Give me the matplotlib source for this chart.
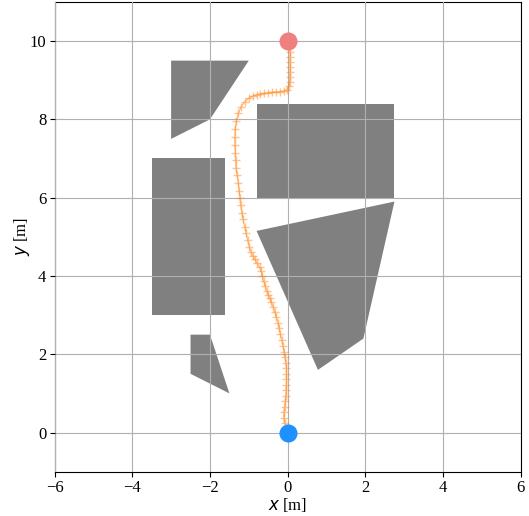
import numpy as np
import matplotlib.pyplot as plt
from matplotlib.patches import Polygon

# obstacles (polygon vertices in metres)
obstacles = [
    [(-3.0, 9.5), (-1.0, 9.5), (-2.0, 8.0), (-3.0, 7.5)],
    [(-0.8, 8.4), (2.75, 8.4), (2.75, 6.0), (-0.8, 6.0)],
    [(-3.5, 7.0), (-1.6, 7.0), (-1.6, 3.0), (-3.5, 3.0)],
    [(-0.8, 5.15), (2.75, 5.9), (1.95, 2.4), (0.78, 1.6)],
    [(-2.5, 2.5), (-2.0, 2.5), (-1.5, 1.0), (-2.5, 1.5)],
]

start = (0.0, 0.0)
goal = (0.0, 10.0)

path_x = [0.0, -0.05, -0.08, -0.10, -0.10, -0.08, -0.06, -0.05, -0.04, -0.03,
          -0.03, -0.03, -0.03, -0.05, -0.07, -0.09, -0.12, -0.15, -0.19, -0.22,
          -0.25, -0.29, -0.33, -0.37, -0.42, -0.46, -0.50, -0.54, -0.58, -0.62,
          -0.65, -0.68, -0.72, -0.78, -0.84, -0.90, -0.95, -0.99, -1.03, -1.07,
          -1.10, -1.15, -1.18, -1.21, -1.23, -1.25, -1.27, -1.30, -1.33, -1.34,
          -1.35, -1.36, -1.36, -1.35, -1.32, -1.27, -1.20, -1.10, -1.00, -0.90,
          -0.80, -0.70, -0.60, -0.50, -0.40, -0.30, -0.20, -0.10, -0.02, 0.03,
          0.05, 0.06, 0.06, 0.06, 0.06, 0.06, 0.06, 0.05, 0.05]
path_y = [0.0, 0.12, 0.25, 0.38, 0.52, 0.66, 0.80, 0.94, 1.08, 1.22,
          1.36, 1.50, 1.64, 1.78, 1.92, 2.05, 2.20, 2.36, 2.52, 2.66,
          2.80, 2.95, 3.08, 3.20, 3.33, 3.43, 3.52, 3.62, 3.75, 3.88,
          4.00, 4.12, 4.22, 4.32, 4.42, 4.52, 4.62, 4.75, 4.92, 5.10,
          5.26, 5.45, 5.60, 5.80, 5.98, 6.18, 6.37, 6.57, 6.75, 6.95,
          7.15, 7.35, 7.55, 7.75, 7.95, 8.15, 8.32, 8.45, 8.54, 8.60,
          8.63, 8.65, 8.67, 8.68, 8.69, 8.70, 8.71, 8.72, 8.76, 8.84,
          8.95, 9.07, 9.20, 9.33, 9.46, 9.60, 9.73, 9.85, 9.92]

plt.rcParams['font.family'] = ['Liberation Serif', 'DejaVu Serif']
plt.rcParams['mathtext.fontset'] = 'dejavusans'

fig = plt.figure(figsize=(5.29, 5.16), dpi=100)
ax = fig.add_axes([0.1032, 0.0859, 0.8811, 0.9104])

for verts in obstacles:
    ax.add_patch(Polygon(verts, closed=True, facecolor='gray', edgecolor='none', zorder=1))

ax.plot(path_x, path_y, '-+', color='#ff7f0e', alpha=0.45, markersize=6, lw=1.0, zorder=3)
ax.plot(*start, 'o', color='#1e90ff', markersize=12, zorder=4)
ax.plot(*goal, 'o', color='#f08080', markersize=12, zorder=4)

ax.set_xlim(-6, 6)
ax.set_ylim(-1, 11)
ax.set_xticks(np.arange(-6, 7, 2))
ax.set_yticks(np.arange(0, 11, 2))
ax.grid(True, zorder=2)
ax.set_axisbelow(False)
ax.tick_params(labelsize=12, pad=2.5)
ax.set_xlabel('$x$ [m]', fontsize=12, labelpad=0)
ax.set_ylabel('$y$ [m]', fontsize=12, labelpad=-2)

fig.savefig('out.png', dpi=100)
